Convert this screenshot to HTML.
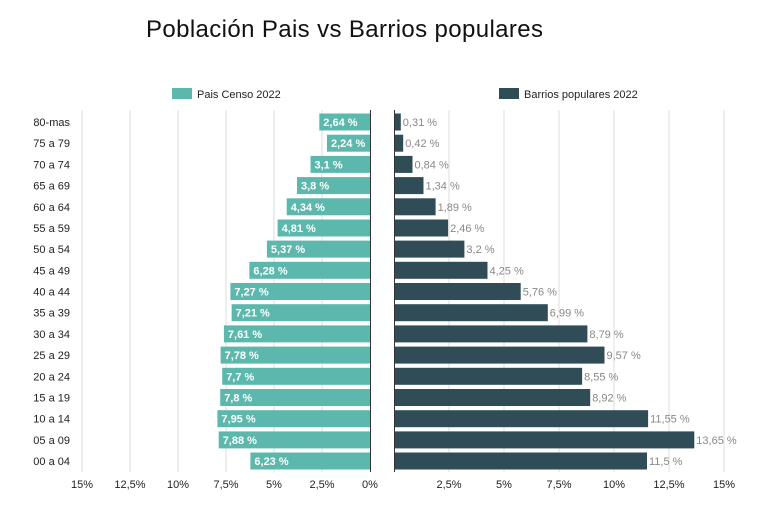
<!DOCTYPE html>
<html><head><meta charset="utf-8"><style>
body{margin:0;background:#fff;font-family:"Liberation Sans",sans-serif;}
</style></head><body>
<svg width="762" height="507" xmlns="http://www.w3.org/2000/svg" font-family="Liberation Sans, sans-serif">
<rect width="762" height="507" fill="#fff"/>
<text x="146" y="37" font-size="24" fill="#111" textLength="397">Población Pais vs Barrios populares</text>
<rect x="172" y="88" width="20" height="11" fill="#5cb8ac"/>
<text x="197" y="98" font-size="11" fill="#222">Pais Censo 2022</text>
<rect x="499" y="88" width="20" height="11" fill="#304d57"/>
<text x="524" y="98" font-size="11" fill="#222">Barrios populares 2022</text>
<g stroke="#dddddd" stroke-width="1">
<line x1="82" y1="110" x2="82" y2="472"/><line x1="130" y1="110" x2="130" y2="472"/><line x1="178" y1="110" x2="178" y2="472"/><line x1="226" y1="110" x2="226" y2="472"/><line x1="274" y1="110" x2="274" y2="472"/><line x1="322" y1="110" x2="322" y2="472"/>
<line x1="449" y1="110" x2="449" y2="472"/><line x1="504" y1="110" x2="504" y2="472"/><line x1="559" y1="110" x2="559" y2="472"/><line x1="614" y1="110" x2="614" y2="472"/><line x1="669" y1="110" x2="669" y2="472"/><line x1="724" y1="110" x2="724" y2="472"/>
</g>
<g font-size="11" fill="#222" text-anchor="middle">
<text x="82" y="488">15%</text><text x="130" y="488">12,5%</text><text x="178" y="488">10%</text><text x="226" y="488">7,5%</text><text x="274" y="488">5%</text><text x="322" y="488">2,5%</text><text x="370" y="488">0%</text>
<text x="449" y="488">2,5%</text><text x="504" y="488">5%</text><text x="559" y="488">7,5%</text><text x="614" y="488">10%</text><text x="669" y="488">12,5%</text><text x="724" y="488">15%</text>
</g>
<g font-size="11" fill="#222" text-anchor="end">
<text x="70" y="126">80-mas</text><text x="70" y="147.2">75 a 79</text><text x="70" y="168.4">70 a 74</text><text x="70" y="189.6">65 a 69</text><text x="70" y="210.8">60 a 64</text><text x="70" y="232">55 a 59</text><text x="70" y="253.1">50 a 54</text><text x="70" y="274.3">45 a 49</text><text x="70" y="295.5">40 a 44</text><text x="70" y="316.7">35 a 39</text><text x="70" y="337.9">30 a 34</text><text x="70" y="359.1">25 a 29</text><text x="70" y="380.3">20 a 24</text><text x="70" y="401.5">15 a 19</text><text x="70" y="422.7">10 a 14</text><text x="70" y="443.9">05 a 09</text><text x="70" y="465">00 a 04</text>
</g>
<g fill="#5cb8ac">
<rect x="319.3" y="113.5" width="50.7" height="17"/><rect x="327" y="134.7" width="43" height="17"/><rect x="310.5" y="155.9" width="59.5" height="17"/><rect x="297" y="177.1" width="73" height="17"/><rect x="286.7" y="198.3" width="83.3" height="17"/><rect x="277.6" y="219.5" width="92.4" height="17"/><rect x="266.9" y="240.6" width="103.1" height="17"/><rect x="249.4" y="261.8" width="120.6" height="17"/><rect x="230.4" y="283" width="139.6" height="17"/><rect x="231.6" y="304.2" width="138.4" height="17"/><rect x="223.9" y="325.4" width="146.1" height="17"/><rect x="220.6" y="346.6" width="149.4" height="17"/><rect x="222.2" y="367.8" width="147.8" height="17"/><rect x="220.2" y="389" width="149.8" height="17"/><rect x="217.4" y="410.2" width="152.6" height="17"/><rect x="218.7" y="431.4" width="151.3" height="17"/><rect x="250.4" y="452.5" width="119.6" height="17"/>
</g>
<g font-size="11" fill="#fff" font-weight="bold">
<text x="323.3" y="126">2,64 %</text><text x="331" y="147.2">2,24 %</text><text x="314.5" y="168.4">3,1 %</text><text x="301" y="189.6">3,8 %</text><text x="290.7" y="210.8">4,34 %</text><text x="281.6" y="232">4,81 %</text><text x="270.9" y="253.1">5,37 %</text><text x="253.4" y="274.3">6,28 %</text><text x="234.4" y="295.5">7,27 %</text><text x="235.6" y="316.7">7,21 %</text><text x="227.9" y="337.9">7,61 %</text><text x="224.6" y="359.1">7,78 %</text><text x="226.2" y="380.3">7,7 %</text><text x="224.2" y="401.5">7,8 %</text><text x="221.4" y="422.7">7,95 %</text><text x="222.7" y="443.9">7,88 %</text><text x="254.4" y="465">6,23 %</text>
</g>
<g fill="#304d57">
<rect x="394" y="113.5" width="6.8" height="17"/><rect x="394" y="134.7" width="9.2" height="17"/><rect x="394" y="155.9" width="18.5" height="17"/><rect x="394" y="177.1" width="29.5" height="17"/><rect x="394" y="198.3" width="41.6" height="17"/><rect x="394" y="219.5" width="54.1" height="17"/><rect x="394" y="240.6" width="70.4" height="17"/><rect x="394" y="261.8" width="93.5" height="17"/><rect x="394" y="283" width="126.7" height="17"/><rect x="394" y="304.2" width="153.8" height="17"/><rect x="394" y="325.4" width="193.4" height="17"/><rect x="394" y="346.6" width="210.5" height="17"/><rect x="394" y="367.8" width="188.1" height="17"/><rect x="394" y="389" width="196.2" height="17"/><rect x="394" y="410.2" width="254.1" height="17"/><rect x="394" y="431.4" width="300.3" height="17"/><rect x="394" y="452.5" width="253" height="17"/>
</g>
<g font-size="11" fill="#888">
<text x="402.8" y="126">0,31 %</text><text x="405.2" y="147.2">0,42 %</text><text x="414.5" y="168.4">0,84 %</text><text x="425.5" y="189.6">1,34 %</text><text x="437.6" y="210.8">1,89 %</text><text x="450.1" y="232">2,46 %</text><text x="466.4" y="253.1">3,2 %</text><text x="489.5" y="274.3">4,25 %</text><text x="522.7" y="295.5">5,76 %</text><text x="549.8" y="316.7">6,99 %</text><text x="589.4" y="337.9">8,79 %</text><text x="606.5" y="359.1">9,57 %</text><text x="584.1" y="380.3">8,55 %</text><text x="592.2" y="401.5">8,92 %</text><text x="650.1" y="422.7">11,55 %</text><text x="696.3" y="443.9">13,65 %</text><text x="649" y="465">11,5 %</text>
</g>
<line x1="370.5" y1="110" x2="370.5" y2="472" stroke="#333"/>
<line x1="394.5" y1="110" x2="394.5" y2="472" stroke="#333"/>
</svg>
</body></html>
